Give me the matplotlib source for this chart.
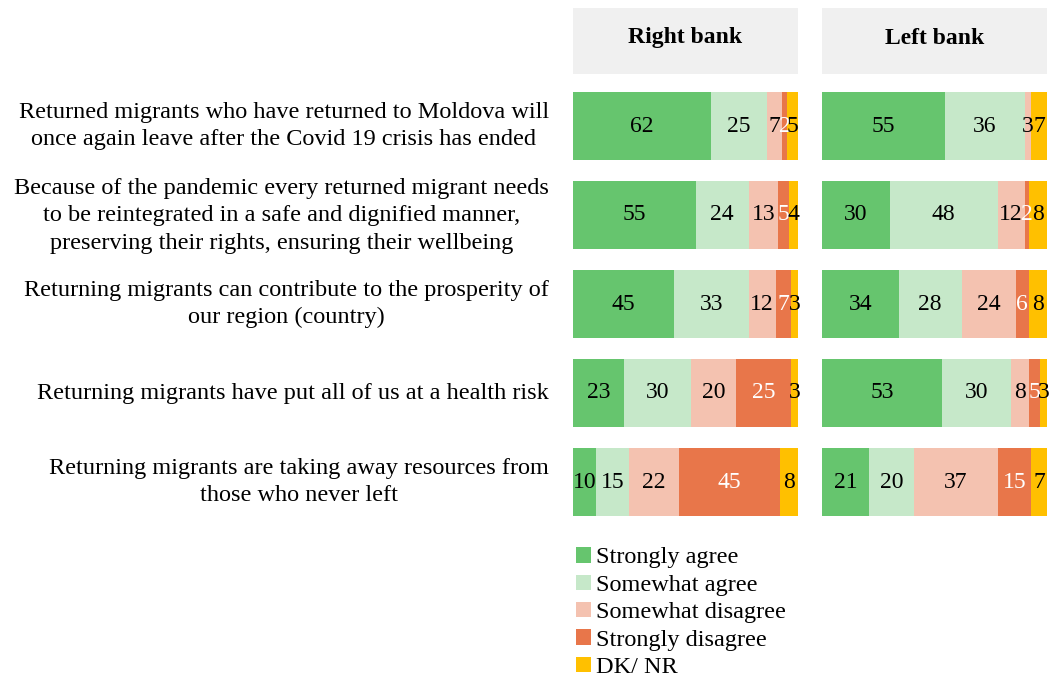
import matplotlib.pyplot as plt
import numpy as np
from matplotlib.patches import Patch, Rectangle

plt.rcParams['font.family'] = ['Liberation Serif', 'DejaVu Serif']

statements = [
    "Returned migrants who have returned to Moldova will\nonce again leave after the Covid 19 crisis has ended",
    "Because of the pandemic every returned migrant needs\nto be reintegrated in a safe and dignified manner,\npreserving their rights, ensuring their wellbeing",
    "Returning migrants can contribute to the prosperity of\nour region (country)",
    "Returning migrants have put all of us at a health risk",
    "Returning migrants are taking away resources from\nthose who never left",
]
answers = ["Strongly agree", "Somewhat agree", "Somewhat disagree", "Strongly disagree", "DK/ NR"]
colors = ["#66C56E", "#C6E8C9", "#F4C2B0", "#E8764A", "#FFC000"]
text_colors = ["black", "black", "black", "white", "black"]

# rows = statements, columns = answers
right_bank = np.array([
    [62, 25, 7, 2, 5],
    [55, 24, 13, 5, 4],
    [45, 33, 12, 7, 3],
    [23, 30, 20, 25, 3],
    [10, 15, 22, 45, 8],
])
left_bank = np.array([
    [55, 36, 3, 0, 7],
    [30, 48, 12, 2, 8],
    [34, 28, 24, 6, 8],
    [53, 30, 8, 5, 3],
    [21, 20, 37, 15, 7],
])
panels = ["Right bank", "Left bank"]

W, H = 1051, 685
fig = plt.figure(figsize=(W / 100, H / 100), dpi=100)

def draw_panel(ax, data):
    y = np.arange(len(statements))
    shares = data / data.sum(axis=1, keepdims=True) * 100
    left = np.zeros(len(statements))
    for j in range(len(answers)):
        ax.barh(y, shares[:, j], left=left, height=0.76, color=colors[j], edgecolor='none')
        for i in range(len(statements)):
            if data[i, j] > 0:
                ax.text(left[i] + shares[i, j] / 2, y[i], str(data[i, j]),
                        ha='center', va='center', fontsize=17, color=text_colors[j])
        left += shares[:, j]
    ax.set_xlim(0, 100)
    ax.set_ylim(len(statements) - 0.5, -0.5)
    ax.axis('off')

ax_bottom = (H - 526.5) / H
ax_height = 445 / H
lefts = [573, 822]
for k, data in enumerate([right_bank, left_bank]):
    ax = fig.add_axes([lefts[k] / W, ax_bottom, 225 / W, ax_height])
    draw_panel(ax, data)
    # header box
    fig.patches.append(Rectangle((lefts[k] / W, (H - 74) / H), 225 / W, 66 / H,
                                 transform=fig.transFigure, facecolor='#F0F0F0',
                                 edgecolor='none', zorder=0))
    fig.text((lefts[k] + 112.5) / W, (H - 38) / H, panels[k], ha='center', va='center',
             fontsize=17, fontweight='bold')

# statement labels
row_centers = [126, 216, 304, 393, 482]
for i, s in enumerate(statements):
    fig.text(549 / W, (H - row_centers[i]) / H, s, ha='right', va='center',
             multialignment='center', fontsize=17.5, linespacing=1.4)

handles = [Patch(facecolor=c, edgecolor='none') for c in colors]
fig.legend(handles, answers, loc='upper left', bbox_to_anchor=(564 / W, (H - 535) / H),
           frameon=False, fontsize=17.5, handlelength=0.6, handleheight=0.6,
           handletextpad=0.2, labelspacing=0.25, borderpad=0)

fig.savefig('out.png', dpi=100)
